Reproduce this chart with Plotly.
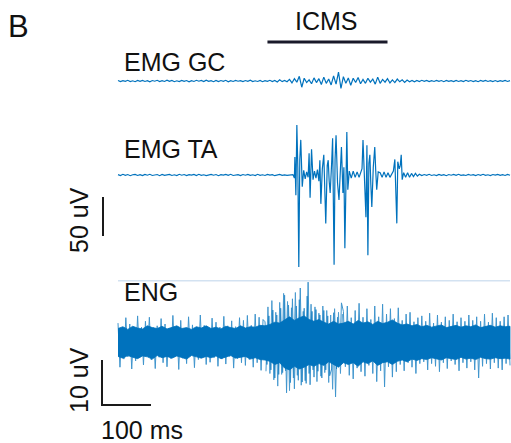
import numpy as np
import plotly.graph_objects as go

# ---------------- data ----------------
# EMG GC, sampled every 5 ms, uV
gc_pre = [0.6,-0.8,0.4,-0.5,0.9,-0.7,0.3,-0.9,0.7,-0.4, 0.8,-0.6,0.5,-1.0,0.6,-0.3,0.9,-0.8,0.4,-0.6,
          1.0,-0.5,0.7,-0.9,0.3,-0.7,0.8,-0.4,0.6,-1.1, 0.5,-0.6,0.9,-0.3,0.7,-0.8,1.1,-0.5,0.4,-0.9,
          0.8,-0.7,0.6,-0.4,0.9,-1.0,0.5,-0.6,0.7,-0.3, 0.4,-0.8,0.6,-0.5,1.0,-0.7,0.3,-0.6,0.8,-0.9,
          0.5,-0.4,0.9,-0.7,0.6,-1.2,1.5,-0.8,0.7,-1.0]
gc_burst = [2.0,-2.5,3.0,-1.5,6.0,-8.0,3.5,-2.0,1.5,-3.5, 4.0,-2.0,3.0,-4.5,5.0,-3.0,2.5,-5.0,6.5,-4.0,
            11.5,-9.5,5.5,-3.0,4.0,-5.5,3.5,-2.0,4.5,-3.5, 2.0,-3.0,3.5,-1.5,2.5,-4.0,5.0,-3.0,2.0,-1.5,
            3.0,-2.5,1.5,-2.0,2.5,-1.0,1.5,-1.8]
gc_post = [1.2,-0.9,0.8,-1.1,0.6,-0.7,0.9,-0.5,0.7,-0.8, 0.5,-0.6,0.8,-0.4,0.6,-0.9,0.7,-0.5,0.4,-0.7,
           0.8,-0.6,0.5,-0.8,0.9,-0.4,0.6,-0.7,0.5,-0.9, 0.7,-0.5,0.8,-0.6,0.4,-0.7,0.6,-0.8,0.5,-0.4,
           0.7,-0.6,0.5]
gc_dt_ms = 5

# EMG TA: baseline every 5 ms before / after, burst with explicit times (ms), uV
ta_pre = [0.5,-0.7,0.9,-0.4,0.6,-0.9,0.3,0.8,-0.6,0.4, -0.8,0.7,-0.3,0.9,-0.6,0.2,0.6,-0.9,0.7,-0.4,
          0.5,0.8,-0.6,0.3,-0.7,0.9,-0.3,0.6,-0.8,0.4, -0.2,0.7,-0.6,0.9,-0.4,0.3,-0.7,0.5,0.8,-0.3,
          0.6,-0.9,0.4,-0.2,0.7,-0.5,0.9,-0.6,0.2,0.4, -0.8,0.6,-0.3,0.8,-0.5,0.3,-0.7,0.9,-0.4,0.3,
          -0.6,0.7,-0.2,0.5,-0.9,0.4,0.8,-0.5,0.2,-0.4, 0.3]
ta_burst_t = [357,360,361,363,365,367,369,371,373,376, 379,382,385,388,390,392,395,398,401,404,
              407,410,412,414,417,420,422,424,427,429, 431,433,436,438,441,443,445,448,451,454,
              456,459,461,463,465,467,469,472,476,480, 484,488,492,496,498,500,503,506,508,510,
              512,514,516,518,521,524,526,528,531,535, 539,543,547,551,555,559,562,565,567,569,
              571,574,576,578,580,583,587,591,595,599, 603,607,611,615]
ta_burst_v = [0.5,-4,23,-26,64,10,-118,20,45,-15, 6,-5,4,-3,28,-29,33,-6,5,-4,
              7,-8,19,-37,8,26,-10,-62,12,19, -8,-23,15,47,-115,20,51,-10,-32,14,
              36,-23,10,-94,18,55,-19,5,-4,5, -3,4,-3,3,8,45,-20,-54,38,-103,
              15,26,-12,-41,10,36,5,-19,4,3, -3,4,-3,3,-3,2,5,20,-10,-62,
              17,8,12,26,-6,3,-3,3,-3,2, -2,2,-1.5,1]
ta_post = [-0.8,0.6,-0.4,0.9,-0.6,0.3,-0.7,0.8,-0.5,0.4, -0.9,0.6,-0.3,0.7,-0.5,0.9,-0.4,0.2,-0.6,0.8,
           -0.3,0.5,-0.7,0.6,-0.4,0.9,-0.5,0.3,-0.8,0.6, -0.2,0.7,-0.5,0.4,-0.6,0.8,-0.3]
ta_post_start_ms = 620
ta_dt_ms = 5

# ENG: tip values every 4 ms (uV)
eng_tips_a = [4.2,-5.6,3.1,-3.8,5.4,-3.3,4.0,-6.0,3.0,-4.2, 5.8,-3.5,3.3,-5.1,4.6,-3.0,5.5,-4.0,3.2,-5.9,
              3.6,-3.4,5.2,-4.6,4.0,-5.5,3.1,-3.7,5.9,-3.2, 3.4,-6.1,4.8,-3.6,3.0,-4.8,5.6,-3.1,3.8,-5.7,
              3.3,-3.9,6.0,-3.4,3.7,-5.0,3.1,-4.5,5.3,-3.5, 4.4,-5.4,3.3,-3.8,5.7,-4.9,3.6,-3.2,4.7,-5.8,
              3.4,-3.7,5.4,-4.6,4.8,-5.2,5.9,-3.9,3.7,-5.6, 6.2,-4.6,5.5,-6.3,5.0]
eng_tips_b = [4.5,-5.0,5.8,-6.2,7.1,-8.0,6.0,-7.2,7.5,-6.8, 10.4,-11.3,8.2,-9.0,9.6,-10.4,8.0,-8.5,12.0,-8.9,
              7.5,-9.2,13.3,-9.5,6.8,-7.8,7.2,-6.5,6.0,-8.0, 7.0,-6.2,5.8,-7.5,-6.0,6.5,-12.2,5.5,-5.0,8.7]
eng_tips_c = [6.8,-5.5,8.0,-7.4,5.4,-8.2,7.0,-5.8,8.6,-6.6, 5.5,-7.6,7.4,-5.2,5.0,-7.0,8.0,-8.8,5.6,-6.4,
              8.4,-10.0,6.2,-5.5,7.4,-7.8,5.2,-6.6,7.6,-5.0, 4.8,-6.4,6.2,-4.6,6.6,-5.6,4.5,-7.0,5.4,-4.8,
              5.8,-4.4,4.6,-6.2,6.4,-4.8,4.2,-5.4,6.0,-6.6, 4.4,-4.6,5.6,-5.9,4.8,-4.2,6.2,-5.0,4.5,-6.4,
              5.4,-4.6,4.6,-5.8,6.0,-4.4,4.8,-6.2,5.6,-8.0, 4.6,-5.4,6.2,-4.8,4.4,-6.0,6.4,-4.6,5.4,-5.8,
              4.6,-6.2,5.6,-4.8,6.0,-5.2]
eng_dt_ms = 4
# extra interleaved tips during the evoked burst (every 4 ms from 302 ms)
eng_burst_extra = [-6.5,7.8,-7.0,9.2,-8.4,6.6,-9.8,8.8,-7.2,10.8, -6.4,9.0,-10.8,7.6,-8.0,11.0,-7.4,9.4,-9.6,6.8,
                   -8.6,10.2,-7.0,8.4,-6.2,7.8,-8.8,6.4,-7.6,8.0, -6.8,7.0,-9.0,6.0,-10.5,7.4,-6.0,6.6,-7.0,6.2]
eng_burst_extra_start_ms = 302
# ENG dense core band envelope every 10 ms (uV)
eng_env_upper = [3.0,3.4,2.8,3.5,3.1,2.9,3.6,3.2,3.0,3.5, 2.9,3.3,3.6,3.0,3.2,2.8,3.4,3.1,3.6,3.0,
                 3.3,2.9,3.5,3.2,3.0,3.6,3.1,3.4,3.3,3.7, 3.6,
                 3.9,4.4,4.2,5.0,5.6,4.8,5.4,5.8,5.0,4.6,5.0,4.4,4.0,4.6,4.0,4.2,
                 4.6,4.0,4.8,4.2,4.5,3.9,4.6,4.1,4.4,4.9,4.2,3.8,4.0,3.6,3.9,3.4,3.7,3.3,3.6,3.8,
                 3.2,3.5,3.7,3.3,3.6,3.4,3.8,3.2,3.5,3.7,3.3,3.6,3.4,3.5]
eng_env_lower = [-3.2,-3.6,-3.0,-3.4,-3.7,-3.1,-3.3,-3.8,-3.0,-3.5, -3.2,-3.6,-3.1,-3.4,-3.8,-3.0,-3.3,-3.6,-3.2,-3.5,
                 -3.1,-3.7,-3.3,-3.0,-3.6,-3.4,-3.2,-3.8,-3.5,-3.9, -4.0,
                 -4.3,-5.0,-4.6,-5.8,-6.2,-5.4,-6.0,-5.6,-5.0,-5.4,-4.8,-5.2,-4.4,-5.0,-5.6,-4.6,
                 -5.0,-4.6,-5.4,-4.4,-4.8,-4.2,-5.2,-4.6,-4.4,-5.0,-4.3,-4.0,-4.4,-3.8,-4.1,-3.7,-3.9,-3.5,-3.8,-4.0,
                 -3.5,-3.7,-3.9,-3.4,-3.8,-3.6,-3.9,-3.4,-3.7,-3.8,-3.5,-3.7,-3.6,-3.8]
eng_env_dt_ms = 10
eng_top_level_uv = 13.6   # faint upper border line of the ENG panel

icms_window_ms = [305, 550]
scale_emg_uv = 50
scale_eng_uv = 10
scale_time_ms = 100

# ---------------- geometry (layout only) ----------------
W, H = 511, 443
X0_PX = 118.0            # pixel of t = 0
PX_PER_MS = 0.49
EMG_UV_PER_PX = 50 / 39.0
TA_BASE_PX = 175.0
GC_BASE_PX = 81.0
ENG_PX_PER_UV = 4.5
ENG_BASE_PX = 342.0
BLUE = "#0072BD"
FONT = "Liberation Sans, Arial, sans-serif"

gc_offset = (TA_BASE_PX - GC_BASE_PX) * EMG_UV_PER_PX

gc_v = np.array(gc_pre + gc_burst + gc_post)
gc_t = np.arange(len(gc_v)) * gc_dt_ms

ta_t = np.concatenate([np.arange(len(ta_pre)) * ta_dt_ms, ta_burst_t,
                       ta_post_start_ms + np.arange(len(ta_post)) * ta_dt_ms])
ta_v = np.concatenate([ta_pre, ta_burst_v, ta_post])

eng_v = np.array(eng_tips_a + eng_tips_b + eng_tips_c)
eng_t = np.arange(len(eng_v)) * eng_dt_ms
extra_t = eng_burst_extra_start_ms + np.arange(len(eng_burst_extra)) * eng_dt_ms
env_t = np.arange(len(eng_env_upper)) * eng_env_dt_ms

fig = go.Figure()

# ENG faint top border
fig.add_trace(go.Scatter(x=[0, eng_t[-1]], y=[eng_top_level_uv] * 2, yaxis="y2", mode="lines",
                         line=dict(color="#d3e2f1", width=1.5), hoverinfo="skip"))
# ENG core band
fig.add_trace(go.Scatter(x=np.concatenate([env_t, env_t[::-1]]),
                         y=np.concatenate([eng_env_upper, eng_env_lower[::-1]]),
                         yaxis="y2", mode="lines", fill="toself", fillcolor=BLUE,
                         line=dict(color=BLUE, width=0.8), hoverinfo="skip"))
# ENG tips
fig.add_trace(go.Scatter(x=extra_t, y=eng_burst_extra, yaxis="y2", mode="lines",
                         line=dict(color=BLUE, width=1), opacity=0.7, hoverinfo="skip"))
fig.add_trace(go.Scatter(x=eng_t, y=eng_v, yaxis="y2", mode="lines",
                         line=dict(color=BLUE, width=1), opacity=0.75, hoverinfo="skip"))

# EMG traces
fig.add_trace(go.Scatter(x=gc_t, y=gc_v + gc_offset, yaxis="y", mode="lines",
                         line=dict(color=BLUE, width=1.2), hoverinfo="skip"))
fig.add_trace(go.Scatter(x=ta_t, y=ta_v, yaxis="y", mode="lines",
                         line=dict(color=BLUE, width=1.2), hoverinfo="skip"))

# ICMS bar
icms_y = (TA_BASE_PX - 42) * EMG_UV_PER_PX
fig.add_trace(go.Scatter(x=icms_window_ms, y=[icms_y] * 2, yaxis="y", mode="lines",
                         line=dict(color="#1a1a2a", width=3), hoverinfo="skip"))

# EMG 50 uV scale bar
bar_t = (103 - X0_PX) / PX_PER_MS
bar_bottom = (TA_BASE_PX - 236) * EMG_UV_PER_PX
fig.add_trace(go.Scatter(x=[bar_t, bar_t], y=[bar_bottom, bar_bottom + scale_emg_uv], yaxis="y",
                         mode="lines", line=dict(color="#1a1a1a", width=2), hoverinfo="skip"))

# ENG 10 uV / 100 ms L-bar
corner_t = (102 - X0_PX) / PX_PER_MS
corner_v = (ENG_BASE_PX - 405) / ENG_PX_PER_UV
fig.add_trace(go.Scatter(x=[corner_t, corner_t, corner_t + scale_time_ms],
                         y=[corner_v + scale_eng_uv, corner_v, corner_v], yaxis="y2",
                         mode="lines", line=dict(color="#1a1a1a", width=2), hoverinfo="skip"))

x_range = [-X0_PX / PX_PER_MS, (W - X0_PX) / PX_PER_MS]
emg_range = [-(H - TA_BASE_PX) * EMG_UV_PER_PX, TA_BASE_PX * EMG_UV_PER_PX]
eng_range = [-(H - ENG_BASE_PX) / ENG_PX_PER_UV, ENG_BASE_PX / ENG_PX_PER_UV]

def py(px):
    return 1 - px / H

def px_x(px):
    return px / W

ann = [
    dict(text="B", x=px_x(6), y=py(27), xanchor="left", font_size=31),
    dict(text="ICMS", x=px_x(326), y=py(21), xanchor="center", font_size=25),
    dict(text="EMG GC", x=px_x(122), y=py(62), xanchor="left", font_size=25),
    dict(text="EMG TA", x=px_x(122), y=py(149), xanchor="left", font_size=25),
    dict(text="ENG", x=px_x(122), y=py(292), xanchor="left", font_size=25),
    dict(text="50 uV", x=px_x(79), y=py(220), xanchor="center", font_size=25, textangle=-90),
    dict(text="10 uV", x=px_x(79), y=py(380), xanchor="center", font_size=25, textangle=-90),
    dict(text="100 ms", x=px_x(142), y=py(430), xanchor="center", font_size=25),
]
annotations = []
for a in ann:
    fs = a.pop("font_size")
    annotations.append(dict(xref="paper", yref="paper", showarrow=False, yanchor="middle",
                            font=dict(family=FONT, size=fs, color="#111111"), **a))

fig.update_layout(
    width=W, height=H, margin=dict(l=0, r=0, t=0, b=0),
    paper_bgcolor="white", plot_bgcolor="white", showlegend=False,
    xaxis=dict(range=x_range, visible=False, fixedrange=True),
    yaxis=dict(range=emg_range, visible=False, fixedrange=True),
    yaxis2=dict(range=eng_range, visible=False, overlaying="y", fixedrange=True),
    annotations=annotations,
)
fig.write_html("out.html", config={"displayModeBar": False},
               post_script="document.body.style.margin='0';document.body.style.padding='0';")
